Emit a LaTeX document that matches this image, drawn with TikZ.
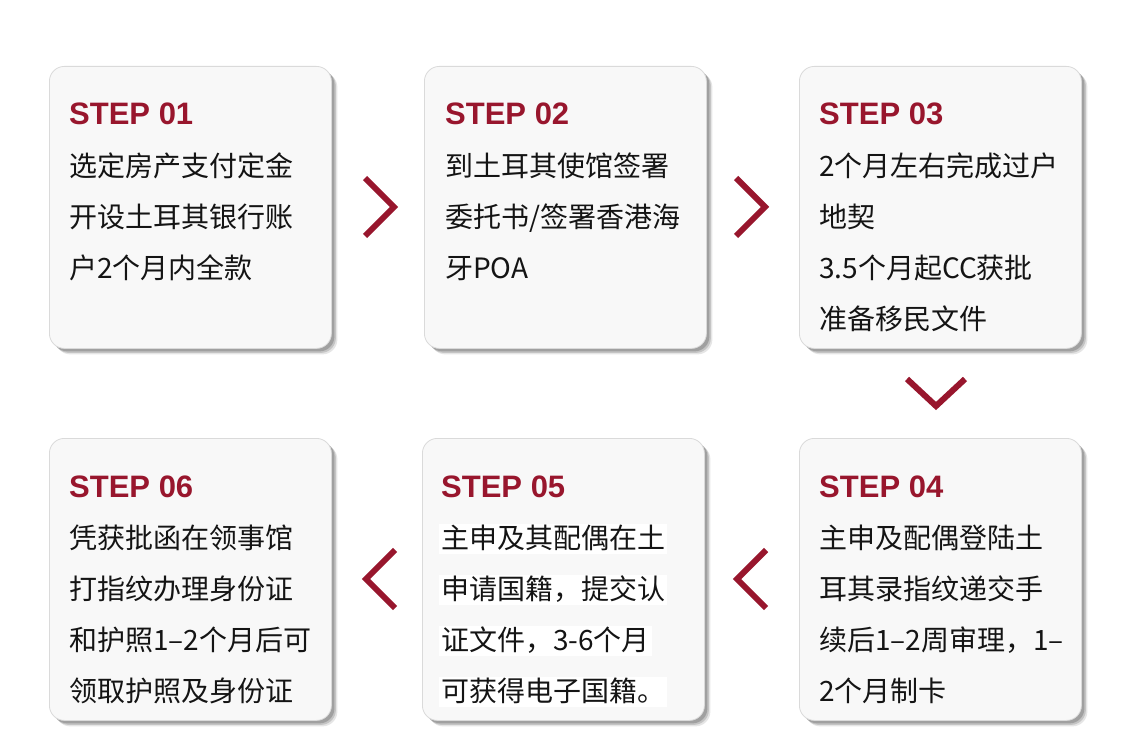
\documentclass[tikz,border=0pt]{standalone}
\usepackage{fontspec}
\setmainfont{Liberation Sans}
\newfontfamily\cjk{Noto Sans CJK SC}
\definecolor{stepred}{RGB}{152,22,45}
\definecolor{boxfill}{RGB}{248,248,248}
\definecolor{boxline}{RGB}{218,218,218}
\definecolor{bodytext}{RGB}{20,20,20}
\begin{document}
\begin{tikzpicture}[x=1pt,y=-1pt,
  card/.style={rounded corners=15pt, fill=boxfill, draw=boxline, line width=0.8pt,
    minimum width=282pt, minimum height=282pt, anchor=north west, inner sep=0pt,
    preaction={fill=black, fill opacity=0.10, transform canvas={shift={(6pt,-6pt)}}},
    preaction={fill=black, fill opacity=0.14, transform canvas={shift={(4.5pt,-4.5pt)}}},
    preaction={fill=black, fill opacity=0.18, transform canvas={shift={(3pt,-3pt)}}}},
  steptitle/.style={anchor=base west, inner sep=0pt, text=stepred,
    font=\fontsize{31}{31}\selectfont\bfseries},
  body/.style={anchor=base west, inner sep=0pt, text=bodytext,
    font=\cjk\fontsize{28}{28}\selectfont},
  hl/.style={body, fill=white, inner xsep=2pt, inner ysep=1pt, text height=24pt, text depth=4pt},
  chev/.style={draw=stepred, line width=6pt, miter limit=10}
]
\fill[white] (0,0) rectangle (1144,754);
\useasboundingbox (0,0) rectangle (1144,754);

% cards
\node[card] (b1) at (49,66) {};
\node[card] (b2) at (424,66) {};
\node[card] (b3) at (799,66) {};
\node[card] (b4) at (799,438) {};
\node[card] (b5) at (422,438) {};
\node[card] (b6) at (49,438) {};

% step 01
\node[steptitle] (t1) at (69,125) {STEP 01};
\node[body] (l11) at (69,176.5) {选定房产支付定金};
\node[body] (l12) at (69,227.5) {开设土耳其银行账};
\node[body] (l13) at (69,278.5) {户2个月内全款};

% step 02
\node[steptitle] (t2) at (445,125) {STEP 02};
\node[body] (l21) at (445,176.5) {到土耳其使馆签署};
\node[body] (l22) at (445,227.5) {委托书/签署香港海};
\node[body] (l23) at (445,278.5) {牙POA};

% step 03
\node[steptitle] (t3) at (819,125) {STEP 03};
\node[body] (l31) at (819,176.5) {2个月左右完成过户};
\node[body] (l32) at (819,227.5) {地契};
\node[body] (l33) at (819,278.5) {3.5个月起CC获批};
\node[body] (l34) at (819,329.5) {准备移民文件};

% step 04
\node[steptitle] (t4) at (819,497) {STEP 04};
\node[body] (l41) at (819,548.5) {主申及配偶登陆土};
\node[body] (l42) at (819,599.5) {耳其录指纹递交手};
\node[body] (l43) at (819,650.5) {续后1–2周审理，1–};
\node[body] (l44) at (819,701.5) {2个月制卡};

% step 05
\node[steptitle] (t5) at (441,497) {STEP 05};
\node[hl] (l51) at (439,548.5) {主申及其配偶在土};
\node[hl] (l52) at (439,599.5) {申请国籍，提交认};
\node[hl] (l53) at (439,650.5) {证文件，3-6个月};
\node[hl] (l54) at (439,701.5) {可获得电子国籍。};

% step 06
\node[steptitle] (t6) at (69,497) {STEP 06};
\node[body] (l61) at (69,548.5) {凭获批函在领事馆};
\node[body] (l62) at (69,599.5) {打指纹办理身份证};
\node[body] (l63) at (69,650.5) {和护照1–2个月后可};
\node[body] (l64) at (69,701.5) {领取护照及身份证};

% chevrons
\coordinate (c1a) at (365,178); \coordinate (c1t) at (394,207); \coordinate (c1b) at (365,236);
\coordinate (c2a) at (736,178); \coordinate (c2t) at (765,207); \coordinate (c2b) at (736,236);
\coordinate (c3a) at (907,379); \coordinate (c3t) at (936,406); \coordinate (c3b) at (965,379);
\coordinate (c4a) at (766,550); \coordinate (c4t) at (737,579); \coordinate (c4b) at (766,608);
\coordinate (c5a) at (395,550); \coordinate (c5t) at (366,579); \coordinate (c5b) at (395,608);
\draw[chev] (c1a) -- (c1t) -- (c1b);
\draw[chev] (c2a) -- (c2t) -- (c2b);
\draw[chev] (c3a) -- (c3t) -- (c3b);
\draw[chev] (c4a) -- (c4t) -- (c4b);
\draw[chev] (c5a) -- (c5t) -- (c5b);
\end{tikzpicture}
\end{document}
